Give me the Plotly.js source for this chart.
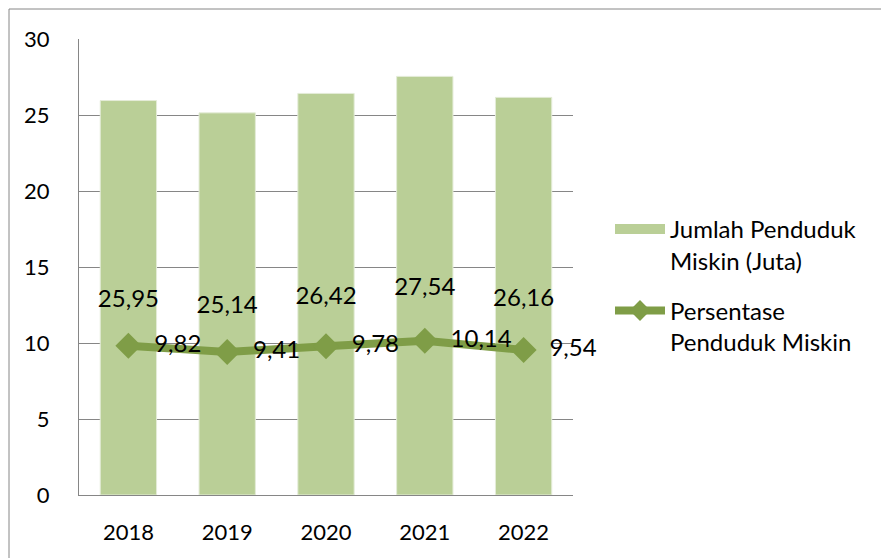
<!DOCTYPE html>
<html>
<head>
<meta charset="utf-8">
<script src="https://cdn.plot.ly/plotly-3.0.1.min.js"></script>
<style>
html,body{margin:0;padding:0;background:#fff;}
#chart{width:881px;height:558px;}
</style>
</head>
<body>
<div id="chart"></div>
<script>
const years = ['2018', '2019', '2020', '2021', '2022'];
const jumlahMiskin = [25.95, 25.14, 26.42, 27.54, 26.16];
const persentaseMiskin = [9.82, 9.41, 9.78, 10.14, 9.54];
const yTicks = [0, 5, 10, 15, 20, 25, 30];
const seriesNames = ['Jumlah Penduduk<br>Miskin (Juta)', 'Persentase<br>Penduduk Miskin'];

const fmt = v => v.toFixed(2).replace('.', ',');
const FONT = 'Lato, "Open Sans", sans-serif';
const BAR_COLOR = '#bacf97';
const LINE_COLOR = '#7f9d47';

const barTrace = {
  type: 'bar',
  name: seriesNames[0],
  showlegend: false,
  legendgroup: 'jumlah',
  x: years,
  y: jumlahMiskin,
  text: jumlahMiskin.map(fmt),
  textposition: 'inside',
  insidetextanchor: 'middle',
  textangle: 0,
  constraintext: 'none',
  textfont: {family: FONT, size: 24, color: '#000'},
  marker: {color: BAR_COLOR, line: {color: '#e4ecd8', width: 1}},
  width: 0.57,
  hoverinfo: 'skip'
};

// legend entry for the bars (flat wide swatch as in the reference)
const barLegend = {
  type: 'scatter',
  mode: 'lines',
  name: seriesNames[0],
  legendgroup: 'jumlah',
  x: [null], y: [null],
  line: {color: BAR_COLOR, width: 12},
  hoverinfo: 'skip'
};

const lineTrace = {
  type: 'scatter',
  mode: 'lines+markers+text',
  name: seriesNames[1],
  legendgroup: 'persen',
  x: years,
  y: persentaseMiskin,
  text: persentaseMiskin.map(v => '\u00a0\u00a0' + fmt(v)),
  textposition: 'middle right',
  textfont: {family: FONT, size: 24, color: '#000'},
  line: {color: LINE_COLOR, width: 8},
  marker: {symbol: 'diamond', size: 20, color: LINE_COLOR},
  cliponaxis: false,
  hoverinfo: 'skip'
};

const L = 79, R = 308, T = 39, B = 63;
const W = 881 - L - R, H = 558 - T - B;

const layout = {
  width: 881, height: 558,
  margin: {l: L, r: R, t: T, b: B, pad: 0},
  paper_bgcolor: '#fff',
  plot_bgcolor: '#fff',
  font: {family: FONT, size: 22, color: '#000'},
  showlegend: true,
  xaxis: {
    type: 'category',
    tickvals: years,
    ticktext: years,
    showline: true, linecolor: '#868686', linewidth: 1,
    showgrid: false, ticks: '', ticklabelstandoff: 18,
    tickfont: {family: FONT, size: 22, color: '#000'},
    fixedrange: true
  },
  yaxis: {
    range: [0, 30],
    tickvals: yTicks,
    ticktext: yTicks.map(String),
    showline: true, linecolor: '#868686', linewidth: 1,
    showgrid: true, gridcolor: '#868686', gridwidth: 1,
    zeroline: false, ticks: '', ticklabelstandoff: 24,
    tickfont: {family: FONT, size: 22, color: '#000'},
    fixedrange: true
  },
  legend: {
    x: (610 - L) / W, y: 1 - (207 - T) / H, xanchor: 'left', yanchor: 'top',
    font: {family: FONT, size: 24, color: '#000'},
    bgcolor: 'rgba(0,0,0,0)',
    itemwidth: 50,
    valign: 'top',
    tracegroupgap: 16,
    traceorder: 'grouped'
  },
  shapes: [{
    type: 'rect', xref: 'paper', yref: 'paper',
    x0: (9 - L) / W, x1: 2, y0: -1, y1: 1 + (T - 9) / H,
    line: {color: '#868686', width: 1}, fillcolor: 'rgba(0,0,0,0)',
    layer: 'below'
  }]
};

Plotly.newPlot('chart', [barTrace, barLegend, lineTrace], layout, {displayModeBar: false, staticPlot: true});
</script>
</body>
</html>
